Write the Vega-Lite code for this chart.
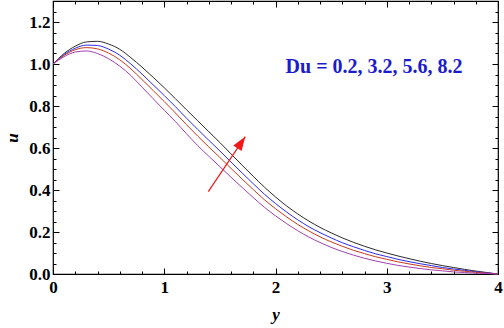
{
  "$schema": "https://vega.github.io/schema/vega-lite/v6.json",
  "width": 445,
  "height": 273,
  "autosize": "none",
  "padding": {"left": 53, "top": 1, "right": 6, "bottom": 54},
  "background": "white",
  "config": {
    "view": {"stroke": "black", "strokeWidth": 1.2},
    "axis": {
      "domain": false,
      "grid": false,
      "tickColor": "black",
      "tickWidth": 1,
      "labelFont": "Liberation Serif",
      "labelFontWeight": "bold",
      "labelFontSize": 17,
      "labelColor": "black",
      "titleFont": "Liberation Serif",
      "titleFontStyle": "italic",
      "titleFontWeight": "bold",
      "titleFontSize": 17,
      "titleColor": "black"
    }
  },
  "datasets": {
    "curves": [
      {"y": 0.0, "u": 1.0, "Du": "8.2"}, {"y": 0.1, "u": 1.05, "Du": "8.2"}, {"y": 0.2, "u": 1.085, "Du": "8.2"}, {"y": 0.3, "u": 1.105, "Du": "8.2"}, {"y": 0.4, "u": 1.108, "Du": "8.2"}, {"y": 0.5, "u": 1.095, "Du": "8.2"}, {"y": 0.6, "u": 1.07, "Du": "8.2"}, {"y": 0.7, "u": 1.03, "Du": "8.2"}, {"y": 0.8, "u": 0.985, "Du": "8.2"}, {"y": 0.9, "u": 0.937, "Du": "8.2"}, {"y": 1.0, "u": 0.887, "Du": "8.2"}, {"y": 1.1, "u": 0.835, "Du": "8.2"}, {"y": 1.2, "u": 0.782, "Du": "8.2"}, {"y": 1.3, "u": 0.73, "Du": "8.2"}, {"y": 1.4, "u": 0.678, "Du": "8.2"}, {"y": 1.5, "u": 0.626, "Du": "8.2"}, {"y": 1.6, "u": 0.572, "Du": "8.2"}, {"y": 1.7, "u": 0.518, "Du": "8.2"}, {"y": 1.8, "u": 0.465, "Du": "8.2"}, {"y": 1.9, "u": 0.414, "Du": "8.2"}, {"y": 2.0, "u": 0.367, "Du": "8.2"}, {"y": 2.1, "u": 0.324, "Du": "8.2"}, {"y": 2.2, "u": 0.286, "Du": "8.2"}, {"y": 2.3, "u": 0.252, "Du": "8.2"}, {"y": 2.4, "u": 0.222, "Du": "8.2"}, {"y": 2.5, "u": 0.196, "Du": "8.2"}, {"y": 2.6, "u": 0.172, "Du": "8.2"}, {"y": 2.7, "u": 0.151, "Du": "8.2"}, {"y": 2.8, "u": 0.132, "Du": "8.2"}, {"y": 2.9, "u": 0.115, "Du": "8.2"}, {"y": 3.0, "u": 0.1, "Du": "8.2"}, {"y": 3.1, "u": 0.086, "Du": "8.2"}, {"y": 3.2, "u": 0.073, "Du": "8.2"}, {"y": 3.3, "u": 0.061, "Du": "8.2"}, {"y": 3.4, "u": 0.05, "Du": "8.2"}, {"y": 3.5, "u": 0.04, "Du": "8.2"}, {"y": 3.6, "u": 0.031, "Du": "8.2"}, {"y": 3.7, "u": 0.022, "Du": "8.2"}, {"y": 3.8, "u": 0.014, "Du": "8.2"}, {"y": 3.9, "u": 0.007, "Du": "8.2"}, {"y": 4.0, "u": 0.0, "Du": "8.2"},

      {"y": 0.0, "u": 1.0, "Du": "5.6"}, {"y": 0.1, "u": 1.045, "Du": "5.6"}, {"y": 0.2, "u": 1.075, "Du": "5.6"}, {"y": 0.3, "u": 1.09, "Du": "5.6"}, {"y": 0.4, "u": 1.088, "Du": "5.6"}, {"y": 0.5, "u": 1.071, "Du": "5.6"}, {"y": 0.6, "u": 1.042, "Du": "5.6"}, {"y": 0.7, "u": 1.0, "Du": "5.6"}, {"y": 0.8, "u": 0.952, "Du": "5.6"}, {"y": 0.9, "u": 0.901, "Du": "5.6"}, {"y": 1.0, "u": 0.85, "Du": "5.6"}, {"y": 1.1, "u": 0.797, "Du": "5.6"}, {"y": 1.2, "u": 0.742, "Du": "5.6"}, {"y": 1.3, "u": 0.689, "Du": "5.6"}, {"y": 1.4, "u": 0.637, "Du": "5.6"}, {"y": 1.5, "u": 0.586, "Du": "5.6"}, {"y": 1.6, "u": 0.533, "Du": "5.6"}, {"y": 1.7, "u": 0.481, "Du": "5.6"}, {"y": 1.8, "u": 0.43, "Du": "5.6"}, {"y": 1.9, "u": 0.38, "Du": "5.6"}, {"y": 2.0, "u": 0.336, "Du": "5.6"}, {"y": 2.1, "u": 0.295, "Du": "5.6"}, {"y": 2.2, "u": 0.258, "Du": "5.6"}, {"y": 2.3, "u": 0.225, "Du": "5.6"}, {"y": 2.4, "u": 0.197, "Du": "5.6"}, {"y": 2.5, "u": 0.172, "Du": "5.6"}, {"y": 2.6, "u": 0.149, "Du": "5.6"}, {"y": 2.7, "u": 0.13, "Du": "5.6"}, {"y": 2.8, "u": 0.112, "Du": "5.6"}, {"y": 2.9, "u": 0.096, "Du": "5.6"}, {"y": 3.0, "u": 0.083, "Du": "5.6"}, {"y": 3.1, "u": 0.07, "Du": "5.6"}, {"y": 3.2, "u": 0.059, "Du": "5.6"}, {"y": 3.3, "u": 0.049, "Du": "5.6"}, {"y": 3.4, "u": 0.04, "Du": "5.6"}, {"y": 3.5, "u": 0.031, "Du": "5.6"}, {"y": 3.6, "u": 0.024, "Du": "5.6"}, {"y": 3.7, "u": 0.017, "Du": "5.6"}, {"y": 3.8, "u": 0.011, "Du": "5.6"}, {"y": 3.9, "u": 0.005, "Du": "5.6"}, {"y": 4.0, "u": 0.0, "Du": "5.6"},

      {"y": 0.0, "u": 1.0, "Du": "3.2"}, {"y": 0.1, "u": 1.041, "Du": "3.2"}, {"y": 0.2, "u": 1.068, "Du": "3.2"}, {"y": 0.3, "u": 1.078, "Du": "3.2"}, {"y": 0.4, "u": 1.072, "Du": "3.2"}, {"y": 0.5, "u": 1.052, "Du": "3.2"}, {"y": 0.6, "u": 1.02, "Du": "3.2"}, {"y": 0.7, "u": 0.977, "Du": "3.2"}, {"y": 0.8, "u": 0.926, "Du": "3.2"}, {"y": 0.9, "u": 0.874, "Du": "3.2"}, {"y": 1.0, "u": 0.821, "Du": "3.2"}, {"y": 1.1, "u": 0.767, "Du": "3.2"}, {"y": 1.2, "u": 0.711, "Du": "3.2"}, {"y": 1.3, "u": 0.657, "Du": "3.2"}, {"y": 1.4, "u": 0.605, "Du": "3.2"}, {"y": 1.5, "u": 0.555, "Du": "3.2"}, {"y": 1.6, "u": 0.503, "Du": "3.2"}, {"y": 1.7, "u": 0.452, "Du": "3.2"}, {"y": 1.8, "u": 0.402, "Du": "3.2"}, {"y": 1.9, "u": 0.354, "Du": "3.2"}, {"y": 2.0, "u": 0.311, "Du": "3.2"}, {"y": 2.1, "u": 0.272, "Du": "3.2"}, {"y": 2.2, "u": 0.236, "Du": "3.2"}, {"y": 2.3, "u": 0.205, "Du": "3.2"}, {"y": 2.4, "u": 0.177, "Du": "3.2"}, {"y": 2.5, "u": 0.153, "Du": "3.2"}, {"y": 2.6, "u": 0.132, "Du": "3.2"}, {"y": 2.7, "u": 0.113, "Du": "3.2"}, {"y": 2.8, "u": 0.097, "Du": "3.2"}, {"y": 2.9, "u": 0.082, "Du": "3.2"}, {"y": 3.0, "u": 0.07, "Du": "3.2"}, {"y": 3.1, "u": 0.058, "Du": "3.2"}, {"y": 3.2, "u": 0.048, "Du": "3.2"}, {"y": 3.3, "u": 0.039, "Du": "3.2"}, {"y": 3.4, "u": 0.031, "Du": "3.2"}, {"y": 3.5, "u": 0.025, "Du": "3.2"}, {"y": 3.6, "u": 0.018, "Du": "3.2"}, {"y": 3.7, "u": 0.013, "Du": "3.2"}, {"y": 3.8, "u": 0.008, "Du": "3.2"}, {"y": 3.9, "u": 0.004, "Du": "3.2"}, {"y": 4.0, "u": 0.0, "Du": "3.2"},

      {"y": 0.0, "u": 1.0, "Du": "0.2"}, {"y": 0.1, "u": 1.035, "Du": "0.2"}, {"y": 0.2, "u": 1.057, "Du": "0.2"}, {"y": 0.3, "u": 1.062, "Du": "0.2"}, {"y": 0.4, "u": 1.05, "Du": "0.2"}, {"y": 0.5, "u": 1.025, "Du": "0.2"}, {"y": 0.6, "u": 0.99, "Du": "0.2"}, {"y": 0.7, "u": 0.945, "Du": "0.2"}, {"y": 0.8, "u": 0.89, "Du": "0.2"}, {"y": 0.9, "u": 0.835, "Du": "0.2"}, {"y": 1.0, "u": 0.78, "Du": "0.2"}, {"y": 1.1, "u": 0.726, "Du": "0.2"}, {"y": 1.2, "u": 0.668, "Du": "0.2"}, {"y": 1.3, "u": 0.612, "Du": "0.2"}, {"y": 1.4, "u": 0.561, "Du": "0.2"}, {"y": 1.5, "u": 0.511, "Du": "0.2"}, {"y": 1.6, "u": 0.461, "Du": "0.2"}, {"y": 1.7, "u": 0.412, "Du": "0.2"}, {"y": 1.8, "u": 0.364, "Du": "0.2"}, {"y": 1.9, "u": 0.318, "Du": "0.2"}, {"y": 2.0, "u": 0.277, "Du": "0.2"}, {"y": 2.1, "u": 0.24, "Du": "0.2"}, {"y": 2.2, "u": 0.206, "Du": "0.2"}, {"y": 2.3, "u": 0.176, "Du": "0.2"}, {"y": 2.4, "u": 0.15, "Du": "0.2"}, {"y": 2.5, "u": 0.127, "Du": "0.2"}, {"y": 2.6, "u": 0.107, "Du": "0.2"}, {"y": 2.7, "u": 0.09, "Du": "0.2"}, {"y": 2.8, "u": 0.075, "Du": "0.2"}, {"y": 2.9, "u": 0.062, "Du": "0.2"}, {"y": 3.0, "u": 0.051, "Du": "0.2"}, {"y": 3.1, "u": 0.041, "Du": "0.2"}, {"y": 3.2, "u": 0.033, "Du": "0.2"}, {"y": 3.3, "u": 0.026, "Du": "0.2"}, {"y": 3.4, "u": 0.02, "Du": "0.2"}, {"y": 3.5, "u": 0.015, "Du": "0.2"}, {"y": 3.6, "u": 0.01, "Du": "0.2"}, {"y": 3.7, "u": 0.007, "Du": "0.2"}, {"y": 3.8, "u": 0.004, "Du": "0.2"}, {"y": 3.9, "u": 0.002, "Du": "0.2"}, {"y": 4.0, "u": 0.0, "Du": "0.2"}
    ],
    "arrow": [{"x1": 1.396, "u1": 0.392, "x2": 1.728, "u2": 0.654}],
    "label": [{"x": 2.886, "u": 0.957, "text": "Du = 0.2, 3.2, 5.6, 8.2"}]
  },
  "layer": [
    {
      "data": {"name": "curves"},
      "mark": {"type": "line", "strokeWidth": 1, "interpolate": "monotone"},
      "encoding": {
        "x": {
          "field": "y", "type": "quantitative",
          "scale": {"domain": [0, 4], "nice": false, "zero": false},
          "axis": {
            "orient": "bottom",
            "title": "y",
            "values": [0, 0.2, 0.4, 0.6, 0.8, 1, 1.2, 1.4, 1.6, 1.8, 2, 2.2, 2.4, 2.6, 2.8, 3, 3.2, 3.4, 3.6, 3.8, 4],
            "labelExpr": "abs(datum.value - round(datum.value)) < 0.001 ? format(datum.value, 'd') : ''",
            "tickSize": {"condition": {"test": "abs(datum.value - round(datum.value)) < 0.001", "value": -6}, "value": -3},
            "labelPadding": 11,
            "labelFlush": false,
            "labelOverlap": false,
            "titlePadding": 8
          }
        },
        "y": {
          "field": "u", "type": "quantitative",
          "scale": {"domain": [0, 1.3], "nice": false},
          "axis": {
            "orient": "left",
            "title": "u",
            "values": [0, 0.05, 0.1, 0.15, 0.2, 0.25, 0.3, 0.35, 0.4, 0.45, 0.5, 0.55, 0.6, 0.65, 0.7, 0.75, 0.8, 0.85, 0.9, 0.95, 1, 1.05, 1.1, 1.15, 1.2, 1.25, 1.3],
            "labelExpr": "abs(datum.value * 5 - round(datum.value * 5)) < 0.001 ? format(datum.value, '.1f') : ''",
            "tickSize": {"condition": {"test": "abs(datum.value * 5 - round(datum.value * 5)) < 0.001", "value": -6}, "value": -3},
            "labelPadding": 9,
            "labelFlush": false,
            "labelOverlap": false,
            "titlePadding": 7
          }
        },
        "color": {
          "field": "Du", "type": "nominal",
          "scale": {"domain": ["0.2", "3.2", "5.6", "8.2"], "range": ["#a040b0", "#c83a1e", "#2a2af0", "#2b2b2b"]},
          "legend": null
        },
        "detail": {"field": "Du"}
      }
    },
    {
      "data": {"name": "arrow"},
      "mark": {"type": "rule", "color": "#f01818", "strokeWidth": 1.2},
      "encoding": {
        "x": {
          "field": "x1", "type": "quantitative",
          "scale": {"domain": [0, 4], "nice": false, "zero": false},
          "axis": {
            "orient": "top", "title": null, "labels": false,
            "values": [0, 0.2, 0.4, 0.6, 0.8, 1, 1.2, 1.4, 1.6, 1.8, 2, 2.2, 2.4, 2.6, 2.8, 3, 3.2, 3.4, 3.6, 3.8, 4],
            "tickSize": {"condition": {"test": "abs(datum.value - round(datum.value)) < 0.001", "value": -6}, "value": -3}
          }
        },
        "y": {
          "field": "u1", "type": "quantitative",
          "scale": {"domain": [0, 1.3], "nice": false},
          "axis": {
            "orient": "right", "title": null, "labels": false,
            "values": [0, 0.05, 0.1, 0.15, 0.2, 0.25, 0.3, 0.35, 0.4, 0.45, 0.5, 0.55, 0.6, 0.65, 0.7, 0.75, 0.8, 0.85, 0.9, 0.95, 1, 1.05, 1.1, 1.15, 1.2, 1.25, 1.3],
            "tickSize": {"condition": {"test": "abs(datum.value * 5 - round(datum.value * 5)) < 0.001", "value": -6}, "value": -3}
          }
        },
        "x2": {"field": "x2"},
        "y2": {"field": "u2"}
      }
    },
    {
      "data": {"name": "arrow"},
      "mark": {"type": "point", "shape": "M0,0L0.36,1L-0.36,1Z", "size": 784, "angle": 34, "filled": true, "color": "#f01818", "opacity": 1, "strokeWidth": 0},
      "encoding": {
        "x": {"field": "x2", "type": "quantitative", "axis": null},
        "y": {"field": "u2", "type": "quantitative", "axis": null}
      }
    },
    {
      "data": {"name": "label"},
      "mark": {"type": "text", "font": "Liberation Serif", "fontWeight": "bold", "fontSize": 20, "color": "#1c1ccc", "align": "center", "baseline": "alphabetic"},
      "encoding": {
        "x": {"field": "x", "type": "quantitative", "axis": null},
        "y": {"field": "u", "type": "quantitative", "axis": null},
        "text": {"field": "text"}
      }
    }
  ],
  "resolve": {"axis": {"x": "independent", "y": "independent"}}
}
